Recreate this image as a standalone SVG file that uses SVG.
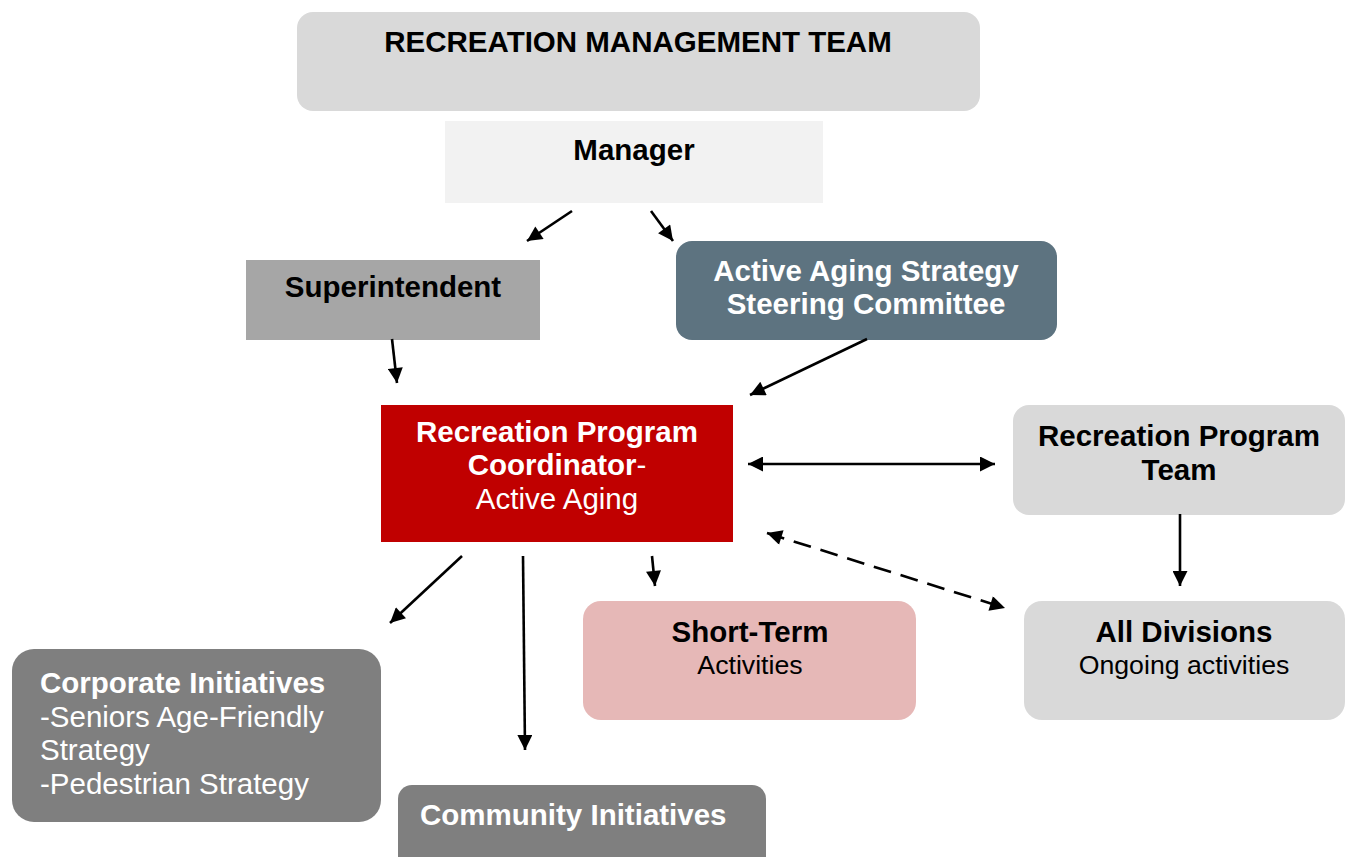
<svg xmlns="http://www.w3.org/2000/svg" width="1351" height="857" viewBox="0 0 1351 857">
<style>
text{font-family:"Liberation Sans",Arial,sans-serif;font-size:29.5px}
.b{font-weight:bold}
.c{text-anchor:middle}
.w{fill:#ffffff}
.k{fill:#000000}
.s{font-size:26.7px}
.ln{stroke:#000;stroke-width:2.6;fill:none}
</style>
<defs>
<marker id="ah" viewBox="0 0 10 10" refX="10" refY="5" markerWidth="16" markerHeight="15" markerUnits="userSpaceOnUse" orient="auto-start-reverse">
<path d="M0,0 L10,5 L0,10 z" fill="#000"/>
</marker>
</defs>
<rect width="1351" height="857" fill="#fff"/>
<g id="mgmt-team">
<rect x="297" y="12" width="683" height="99" rx="16" fill="#d9d9d9"/>
<text x="638" y="52" class="b c k">RECREATION MANAGEMENT TEAM</text>
</g>
<g id="manager">
<rect x="445" y="121" width="378" height="82" fill="#f2f2f2"/>
<text x="634" y="160" class="b c k">Manager</text>
</g>
<g id="superintendent">
<rect x="246" y="260" width="294" height="80" fill="#a6a6a6"/>
<text x="393" y="297" class="b c k">Superintendent</text>
</g>
<g id="steering">
<rect x="676" y="241" width="381" height="99" rx="16" fill="#5d7380"/>
<text x="866" y="281" class="b c w">Active Aging Strategy</text>
<text x="866" y="314" class="b c w">Steering Committee</text>
</g>
<g id="coordinator">
<rect x="381" y="405" width="352" height="137" fill="#c00000"/>
<text x="557" y="442" class="b c w">Recreation Program</text>
<text x="557" y="475" class="c w"><tspan class="b">Coordinator</tspan>-</text>
<text x="557" y="509" class="c w">Active Aging</text>
</g>
<g id="program-team">
<rect x="1013" y="405" width="332" height="110" rx="16" fill="#d9d9d9"/>
<text x="1179" y="446" class="b c k">Recreation Program</text>
<text x="1179" y="480" class="b c k">Team</text>
</g>
<g id="short-term">
<rect x="583" y="601" width="333" height="119" rx="18" fill="#e6b8b7"/>
<text x="750" y="642" class="b c k">Short-Term</text>
<text x="750" y="674" class="c k s">Activities</text>
</g>
<g id="all-divisions">
<rect x="1024" y="601" width="321" height="119" rx="18" fill="#d9d9d9"/>
<text x="1184" y="642" class="b c k">All Divisions</text>
<text x="1184" y="674" class="c k s">Ongoing activities</text>
</g>
<g id="corporate">
<rect x="12" y="649" width="369" height="173" rx="22" fill="#7f7f7f"/>
<text x="40" y="693" class="b w">Corporate Initiatives</text>
<text x="40" y="727" class="w">-Seniors Age-Friendly</text>
<text x="40" y="760" class="w">Strategy</text>
<text x="40" y="794" class="w">-Pedestrian Strategy</text>
</g>
<g id="community">
<rect x="398" y="785" width="368" height="100" rx="14" fill="#7f7f7f"/>
<text x="420" y="825" class="b w">Community Initiatives</text>
</g>
<g id="connectors">
<line class="ln" x1="572" y1="211" x2="527" y2="241" marker-end="url(#ah)"/>
<line class="ln" x1="651" y1="211" x2="673" y2="241" marker-end="url(#ah)"/>
<line class="ln" x1="392" y1="339" x2="397" y2="383" marker-end="url(#ah)"/>
<line class="ln" x1="867" y1="339" x2="750" y2="395" marker-end="url(#ah)"/>
<line class="ln" x1="748" y1="464" x2="995" y2="464" marker-start="url(#ah)" marker-end="url(#ah)"/>
<line class="ln" x1="767" y1="533" x2="1005" y2="608" stroke-dasharray="18 10" marker-start="url(#ah)" marker-end="url(#ah)"/>
<line class="ln" x1="1180" y1="514" x2="1180" y2="586" marker-end="url(#ah)"/>
<line class="ln" x1="462" y1="556" x2="390" y2="623" marker-end="url(#ah)"/>
<line class="ln" x1="523" y1="556" x2="525" y2="750" marker-end="url(#ah)"/>
<line class="ln" x1="652" y1="556" x2="655" y2="586" marker-end="url(#ah)"/>
</g>
</svg>
